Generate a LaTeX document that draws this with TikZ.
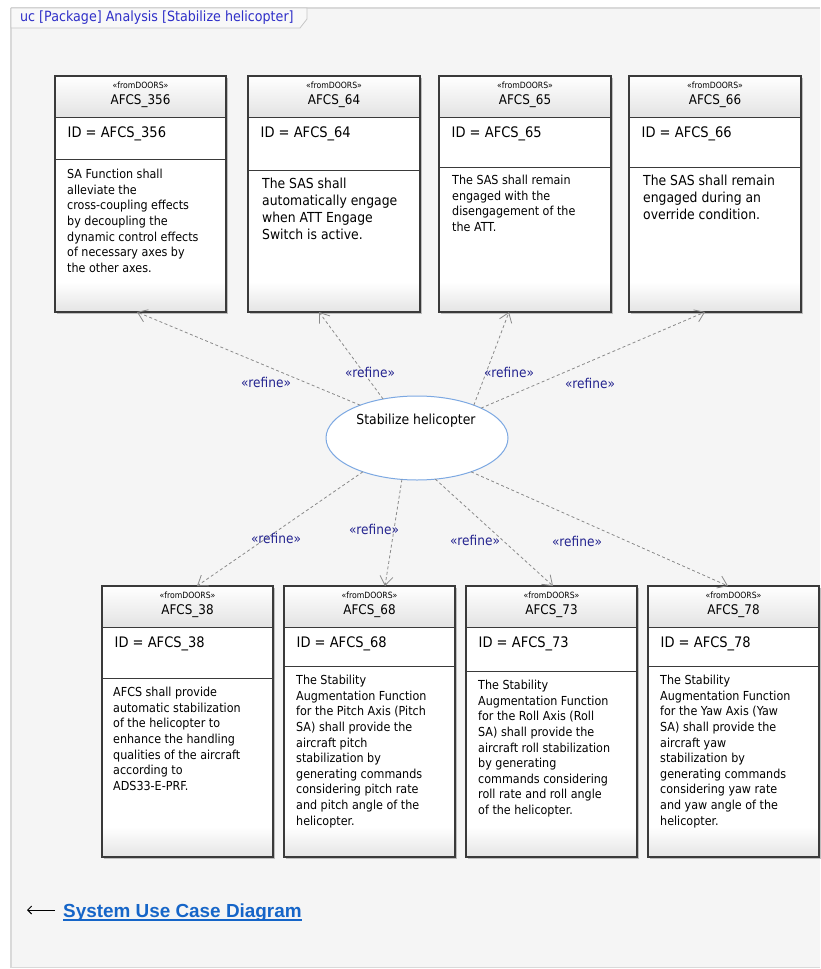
\documentclass[tikz,border=0pt]{standalone}
\usepackage{fontspec}
\setmainfont{DejaVu Sans}[FakeStretch=0.9]
\newfontfamily\linkfont{Liberation Sans}
\usetikzlibrary{arrows.meta,shapes.geometric}

\definecolor{pagebg}{HTML}{F5F5F5}
\definecolor{frameline}{HTML}{D9D9D9}
\definecolor{tabfill}{HTML}{F8F8F8}
\definecolor{tabline}{HTML}{C6C6C6}
\definecolor{titleblue}{HTML}{2F2FC8}
\definecolor{refineblue}{HTML}{23238F}
\definecolor{relgray}{HTML}{8A8A8A}
\definecolor{boxline}{HTML}{3A3A3A}
\definecolor{boxshadow}{HTML}{BDBDBD}
\definecolor{headshade}{HTML}{E3E3E3}
\definecolor{footshade}{HTML}{E4E4E4}
\definecolor{ucline}{HTML}{7CA8E2}
\definecolor{linkblue}{HTML}{1565C8}

\tikzset{
  reqbody/.style={rectangle, fill=white, draw=none, inner sep=0, outer sep=0},
  reqborder/.style={draw=boxline, line width=1.2pt},
  reqsep/.style={draw=boxline, line width=1pt},
  stereo/.style={inner sep=0, font=\fontsize{8.6}{9}\selectfont},
  reqname/.style={inner sep=0, font=\fontsize{13.3}{15}\selectfont},
  idtext/.style={inner sep=0, anchor=west, font=\fontsize{14.5}{16}\selectfont},
  descsmall/.style={inner sep=0, anchor=north west, align=left, font=\fontsize{12.4}{15.6}\selectfont},
  desclarge/.style={inner sep=0, anchor=north west, align=left, font=\fontsize{13.8}{16.9}\selectfont},
  usecase/.style={ellipse, draw=ucline, line width=1pt, fill=white, minimum width=182pt, minimum height=84pt, inner sep=0, outer sep=0},
  refine/.style={draw=relgray, line width=0.8pt, dash pattern=on 3pt off 2.5pt,
    -{Straight Barb[length=9pt,width=13pt,line width=0.8pt]}},
  reflabel/.style={inner sep=0, text=refineblue, font=\fontsize{13.5}{15}\selectfont},
}

% requirement block: key, left, top, right, bottom, y of the ID compartment line
\newcommand{\reqblock}[6]{%
  \fill[boxshadow] (#2+1.5,#3+1.5) rectangle (#4+1.5,#5+1.5);
  \node[reqbody, anchor=north west, minimum width={#4-#2}, minimum height={#5-#3}] (r#1) at (#2,#3) {};
  \shade[top color=white, bottom color=headshade] (r#1.north west) rectangle (#4,#3+41);
  \shade[top color=white, bottom color=footshade] (#2,#5-30) rectangle (r#1.south east);
  \draw[reqsep] (#2,#3+41) -- (#4,#3+41);
  \draw[reqsep] (#2,#6) -- (#4,#6);
  \draw[reqborder] (r#1.north west) rectangle (r#1.south east);
  \node[stereo] (s#1) at ({(#2+#4)/2},#3+9.5) {«fromDOORS»};
  \node[reqname] (n#1) at ({(#2+#4)/2},#3+25.5) {AFCS\_#1};
  \node[idtext] (i#1) at (#2+12.5,#3+57.5) {ID = AFCS\_#1};
}

\begin{document}
\begin{tikzpicture}[x=1pt,y=-1pt]
\useasboundingbox (0,0) rectangle (820,969);
\fill[white] (0,0) rectangle (820,969);

% diagram frame
\fill[pagebg] (11,8) rectangle (820,968);
\draw[frameline, line width=2pt] (11,8) -- (11,968);
\draw[frameline, line width=1.5pt] (11,8) -- (820,8);
\draw[frameline, line width=1pt] (11,967.5) -- (820,967.5);
\filldraw[fill=tabfill, draw=tabline, line width=0.8pt]
  (11,8) -- (307,8) -- (307,19) -- (300,28) -- (11,28) -- cycle;
\node[inner sep=0, anchor=west, text=titleblue, font=\fontsize{14.1}{15}\selectfont]
  (title) at (20,17.5) {uc [Package] Analysis [Stabilize helicopter]};

% requirement blocks, upper row
\reqblock{356}{55}{76}{226}{312}{159}
\reqblock{64}{248}{76}{420}{312}{170}
\reqblock{65}{439}{76}{611}{312}{167}
\reqblock{66}{629}{76}{801}{312}{167}

% requirement blocks, lower row
\reqblock{38}{102}{586}{273}{857}{678}
\reqblock{68}{284}{586}{455}{857}{666}
\reqblock{73}{466}{586}{637}{857}{671}
\reqblock{78}{648}{586}{819}{857}{666}

% requirement texts
\node[descsmall] (d356) at (67,169) {SA Function shall\\alleviate the\\cross-coupling effects\\by decoupling the\\dynamic control effects\\of necessary axes by\\the other axes.};
\node[desclarge] (d64) at (262,178) {The SAS shall\\automatically engage\\when ATT Engage\\Switch is active.};
\node[descsmall] (d65) at (452,175) {The SAS shall remain\\engaged with the\\disengagement of the\\the ATT.};
\node[desclarge] (d66) at (643,175) {The SAS shall remain\\engaged during an\\override condition.};
\node[descsmall] (d38) at (113,687) {AFCS shall provide\\automatic stabilization\\of the helicopter to\\enhance the handling\\qualities of the aircraft\\according to\\ADS33-E-PRF.};
\node[descsmall] (d68) at (296,675) {The Stability\\Augmentation Function\\for the Pitch Axis (Pitch\\SA) shall provide the\\aircraft pitch\\stabilization by\\generating commands\\considering pitch rate\\and pitch angle of the\\helicopter.};
\node[descsmall] (d73) at (478,680) {The Stability\\Augmentation Function\\for the Roll Axis (Roll\\SA) shall provide the\\aircraft roll stabilization\\by generating\\commands considering\\roll rate and roll angle\\of the helicopter.};
\node[descsmall] (d78) at (660,675) {The Stability\\Augmentation Function\\for the Yaw Axis (Yaw\\SA) shall provide the\\aircraft yaw\\stabilization by\\generating commands\\considering yaw rate\\and yaw angle of the\\helicopter.};

% use case
\node[usecase] (uc) at (417,438) {};
\node[inner sep=0, font=\fontsize{13.8}{15}\selectfont] (uctext) at (416,421) {Stabilize helicopter};

% arrow ends on the requirement blocks
\coordinate (e356) at (137,312);
\coordinate (e64) at (319,312);
\coordinate (e65) at (509,312);
\coordinate (e66) at (705,312);
\coordinate (e38) at (197,586);
\coordinate (e68) at (385,586);
\coordinate (e73) at (553,586);
\coordinate (e78) at (728,586);

% refine relations
\draw[refine] (uc.150.4) -- (e356);
\draw[refine] (uc.131.8) -- (e64);
\draw[refine] (uc.30.3) -- (e65);
\draw[refine] (uc.25.1) -- (e66);
\draw[refine] (uc.212.2) -- (e38);
\draw[refine] (uc.250.3) -- (e68);
\draw[refine] (uc.294.3) -- (e73);
\draw[refine] (uc.328.7) -- (e78);

\node[reflabel] (l356) at (266,382) {«refine»};
\node[reflabel] (l64) at (370,372) {«refine»};
\node[reflabel] (l65) at (509,372) {«refine»};
\node[reflabel] (l66) at (590,383) {«refine»};
\node[reflabel] (l38) at (276,538) {«refine»};
\node[reflabel] (l68) at (374,529) {«refine»};
\node[reflabel] (l73) at (475,540) {«refine»};
\node[reflabel] (l78) at (577,541) {«refine»};

% link back to the system use case diagram
\node[inner sep=0, anchor=west, text=linkblue, font=\linkfont\bfseries\fontsize{18.9}{20}\selectfont]
  (link) at (63,913) {System Use Case Diagram};
\draw[linkblue, line width=1.8pt] ([yshift=-2.5pt]link.base west) -- ([yshift=-2.5pt]link.base east);
\coordinate (backfrom) at (55,910);
\coordinate (backto) at (27,910);
\draw[black, line width=0.9pt, -{Straight Barb[length=4pt,width=8pt,line width=0.9pt]}] (backfrom) -- (backto);
\end{tikzpicture}
\end{document}
